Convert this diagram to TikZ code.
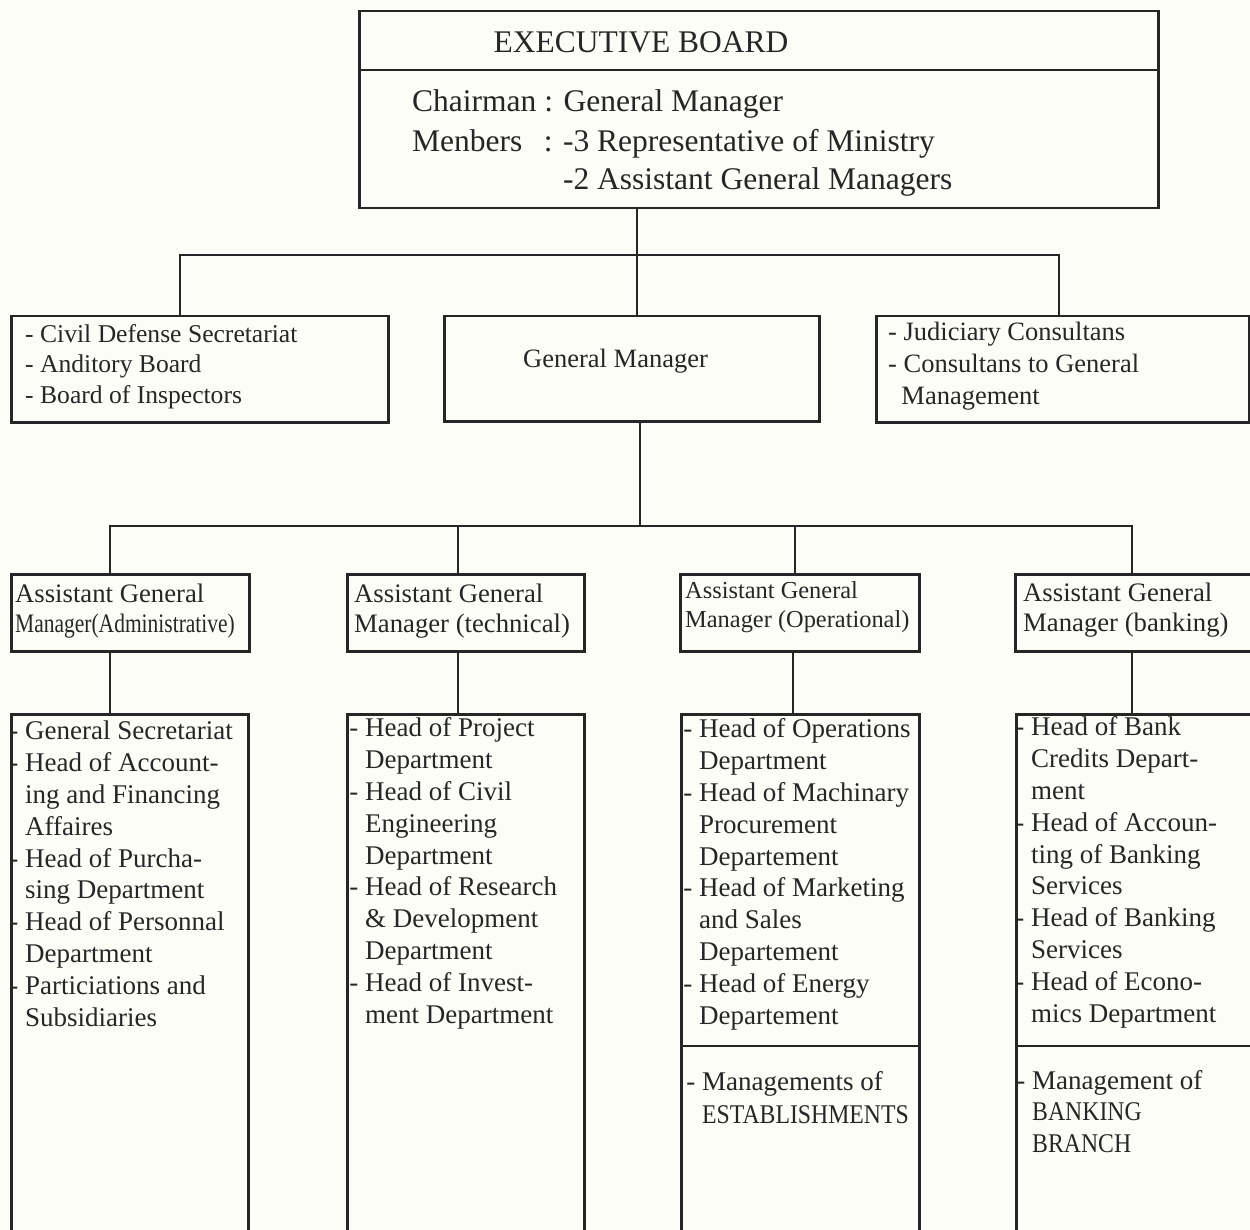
\documentclass[tikz,border=0pt]{standalone}
\usepackage{fontspec}
\setmainfont{Liberation Serif}
\usepackage{graphicx}
\definecolor{ink}{HTML}{262626}
\definecolor{paper}{HTML}{FDFDF8}
\begin{document}
\begin{tikzpicture}[x=1pt,y=-1pt,
  box/.style={draw=ink, line width=2.5pt, inner sep=0pt, anchor=north west},
  conn/.style={draw=ink, line width=2.5pt},
  txt/.style={anchor=base west, inner sep=0pt, text=ink, align=left},
  big/.style={font=\fontsize{31.5}{39}\selectfont},
  mid/.style={font=\fontsize{26.5}{31.5}\selectfont},
  body/.style={font=\fontsize{27}{31.8}\selectfont},
]
\path[use as bounding box, fill=paper] (0,0) rectangle (1250,1230);
\clip (0,0) rectangle (1250,1230);

% ---------- executive board ----------
\node[box, minimum width=799pt, minimum height=197pt] (eb) at (358,10) {};
\coordinate (ebdiv) at (0,70);
\draw[conn] (eb.west |- ebdiv) -- (eb.east |- ebdiv);
\node[txt, big, anchor=base] (ebt) at (641,53) {EXECUTIVE BOARD};
\node[txt, big] (ebc) at (412,112) {Chairman : General Manager};
\node[txt, big] (ebm) at (412,152) {Menbers\hspace{0.68em}: -3 Representative of Ministry};
\node[txt, big] (ebm2) at (412,190) {\phantom{Menbers\hspace{0.68em}: }-2 Assistant General Managers};

% ---------- second row ----------
\node[box, minimum width=377pt, minimum height=106pt] (sec) at (10,315) {};
\node[box, minimum width=375pt, minimum height=105pt] (gm) at (443,315) {};
\node[box, minimum width=373pt, minimum height=106pt] (cons) at (875,315) {};

% multi-line nodes: base = baseline of the last line
\node[txt, font=\fontsize{25.6}{30.5}\selectfont] (sect) at (25,403)
  {- Civil Defense Secretariat\\- Anditory Board\\- Board of Inspectors};
\node[txt, mid] (gmt) at (523,368) {General Manager};
\node[txt, mid] (const) at (888,404)
  {- Judiciary Consultans\\- Consultans to General\\\hspace{0.5em}Management};

\coordinate (j1) at (637,255);
\coordinate (j1L) at (180,255);
\coordinate (j1R) at (1059,255);
\draw[conn] (eb.south -| j1) -- (gm.north -| j1);
\draw[conn] (sec.north -| j1L) -- (j1L) -- (j1R) -- (cons.north -| j1R);

% ---------- assistant general managers ----------
\node[box, minimum width=238pt, minimum height=77pt] (agm1) at (10,573) {};
\node[box, minimum width=237pt, minimum height=77pt] (agm2) at (346,573) {};
\node[box, minimum width=239pt, minimum height=77pt] (agm3) at (679,573) {};
\node[box, minimum width=250pt, minimum height=77pt] (agm4) at (1014,573) {};

\node[txt, font=\fontsize{26.7}{30.5}\selectfont] (agm1t) at (15,632.5)
  {Assistant General\\\scalebox{0.805}[1]{Manager(Administrative)}};
\node[txt, font=\fontsize{26.7}{30.5}\selectfont] (agm2t) at (354,632.5)
  {Assistant General\\Manager (technical)};
\node[txt, font=\fontsize{24.4}{29.5}\selectfont] (agm3t) at (685,627.5)
  {Assistant General\\Manager (Operational)};
\node[txt, font=\fontsize{26.7}{30}\selectfont] (agm4t) at (1023,631)
  {Assistant General\\Manager (banking)};

\coordinate (j2) at (640,526);
\coordinate (j2a) at (110,526);
\coordinate (j2b) at (458,526);
\coordinate (j2c) at (795,526);
\coordinate (j2d) at (1132,526);
\draw[conn] (gm.south -| j2) -- (j2);
\draw[conn] (agm1.north -| j2a) -- (j2a) -- (j2d) -- (agm4.north -| j2d);
\draw[conn] (j2b) -- (agm2.north -| j2b);
\draw[conn] (j2c) -- (agm3.north -| j2c);

% ---------- departments ----------
\node[box, minimum width=237pt, minimum height=530pt] (d1) at (10,713) {};
\node[box, minimum width=237pt, minimum height=530pt] (d2) at (346,713) {};
\node[box, minimum width=238pt, minimum height=530pt] (d3) at (680,713) {};
\node[box, minimum width=250pt, minimum height=530pt] (d4) at (1015,713) {};
\coordinate (dv) at (0,1046);
\draw[conn] (d3.west |- dv) -- (d3.east |- dv);
\draw[conn] (d4.west |- dv) -- (d4.east |- dv);

\coordinate (k1) at (110,0);
\coordinate (k2) at (458,0);
\coordinate (k3) at (793,0);
\coordinate (k4) at (1132,0);
\draw[conn] (agm1.south -| k1) -- (d1.north -| k1);
\draw[conn] (agm2.south -| k2) -- (d2.north -| k2);
\draw[conn] (agm3.south -| k3) -- (d3.north -| k3);
\draw[conn] (agm4.south -| k4) -- (d4.north -| k4);

\node[txt, body] (d1t) at (25,1026)
  {\llap{- }General Secretariat\\
   \llap{- }Head of Account-\\
   ing and Financing\\
   Affaires\\
   \llap{- }Head of Purcha-\\
   sing Department\\
   \llap{- }Head of Personnal\\
   Department\\
   \llap{- }Particiations and\\
   Subsidiaries};
\node[txt, body] (d2t) at (365,1023)
  {\llap{- }Head of Project\\
   Department\\
   \llap{- }Head of Civil\\
   Engineering\\
   Department\\
   \llap{- }Head of Research\\
   \& Development\\
   Department\\
   \llap{- }Head of Invest-\\
   ment Department};
\node[txt, body] (d3t) at (699,1024)
  {\llap{- }Head of Operations\\
   Department\\
   \llap{- }Head of Machinary\\
   Procurement\\
   Departement\\
   \llap{- }Head of Marketing\\
   and Sales\\
   Departement\\
   \llap{- }Head of Energy\\
   Departement};
\node[txt, font=\fontsize{27}{33}\selectfont] (d3b) at (702,1123)
  {\llap{- }Managements of\\
   \scalebox{0.88}[1]{ESTABLISHMENTS}};
\node[txt, body] (d4t) at (1031,1022)
  {\llap{- }Head of Bank\\
   Credits Depart-\\
   ment\\
   \llap{- }Head of Accoun-\\
   ting of Banking\\
   Services\\
   \llap{- }Head of Banking\\
   Services\\
   \llap{- }Head of Econo-\\
   mics Department};
\node[txt, font=\fontsize{27}{31.5}\selectfont] (d4b) at (1032,1152)
  {\llap{- }Management of\\
   \scalebox{0.88}[1]{BANKING}\\
   \scalebox{0.88}[1]{BRANCH}};
\end{tikzpicture}
\end{document}
